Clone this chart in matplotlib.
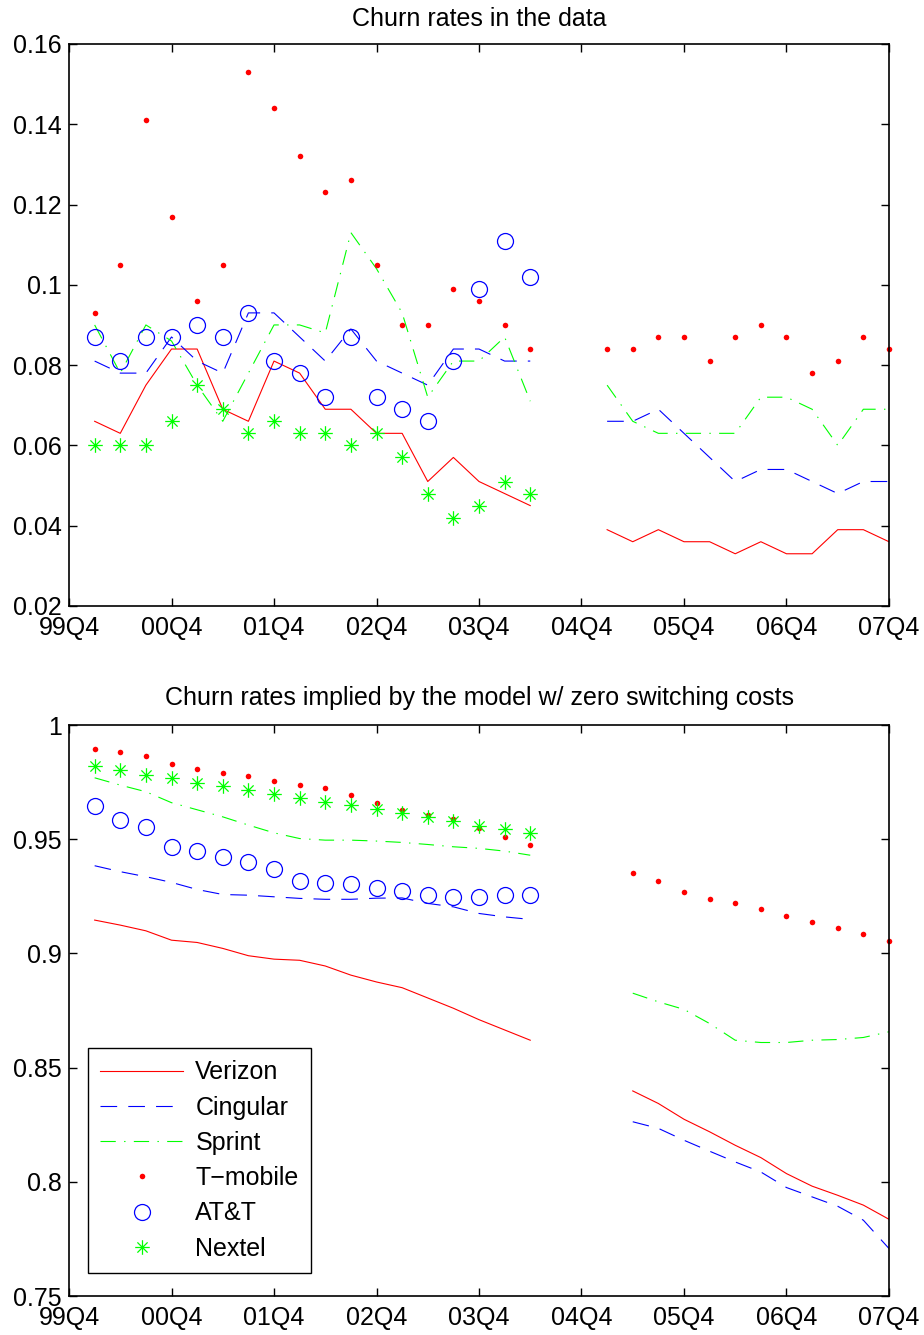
import numpy as np
import matplotlib
matplotlib.use('Agg')
import matplotlib.pyplot as plt
from matplotlib.path import Path

nan = np.nan

# quarters: index 0 = 99Q4 ... index 32 = 07Q4
quarters = np.arange(33)
tick_pos = np.arange(0, 33, 4)
tick_labels = ['99Q4', '00Q4', '01Q4', '02Q4', '03Q4', '04Q4', '05Q4', '06Q4', '07Q4']

# Churn rates in the data
data_verizon = [nan, 0.066, 0.063, 0.075, 0.084, 0.084, 0.069, 0.066, 0.081, 0.078, 0.069, 0.069,
                0.063, 0.063, 0.051, 0.057, 0.051, 0.048, 0.045, nan, nan,
                0.039, 0.036, 0.039, 0.036, 0.036, 0.033, 0.036, 0.033, 0.033, 0.039, 0.039, 0.036]
data_cingular = [nan, 0.081, 0.078, 0.078, 0.087, 0.081, 0.078, 0.093, 0.093, 0.087, 0.081, 0.089,
                 0.081, 0.078, 0.075, 0.084, 0.084, 0.081, 0.081, nan, nan,
                 0.066, 0.066, 0.069, 0.063, 0.057, 0.051, 0.054, 0.054, 0.051, 0.048, 0.051, 0.051]
data_sprint = [nan, 0.090, 0.078, 0.090, 0.086, 0.075, 0.066, 0.078, 0.090, 0.090, 0.088, 0.113,
               0.104, 0.093, 0.072, 0.081, 0.081, 0.087, 0.071, nan, nan,
               0.075, 0.066, 0.063, 0.063, 0.063, 0.063, 0.072, 0.072, 0.069, 0.060, 0.069, 0.069]
data_tmobile = [nan, 0.093, 0.105, 0.141, 0.117, 0.096, 0.105, 0.153, 0.144, 0.132, 0.123, 0.126,
                0.105, 0.090, 0.090, 0.099, 0.096, 0.090, 0.084, nan, nan,
                0.084, 0.084, 0.087, 0.087, 0.081, 0.087, 0.090, 0.087, 0.078, 0.081, 0.087, 0.084]
data_att = [nan, 0.087, 0.081, 0.087, 0.087, 0.090, 0.087, 0.093, 0.081, 0.078, 0.072, 0.087,
            0.072, 0.069, 0.066, 0.081, 0.099, 0.111, 0.102] + [nan] * 14
data_nextel = [nan, 0.060, 0.060, 0.060, 0.066, 0.075, 0.069, 0.063, 0.066, 0.063, 0.063, 0.060,
               0.063, 0.057, 0.048, 0.042, 0.045, 0.051, 0.048] + [nan] * 14

# Churn rates implied by the model
model_verizon = [nan, 0.9146, 0.9124, 0.9099, 0.9058, 0.9048, 0.9022, 0.8990, 0.8975, 0.8970, 0.8945,
                 0.8905, 0.8875, 0.8850, 0.8805, 0.8760, 0.8710, 0.8665, 0.8620, nan, nan, nan,
                 0.8398, 0.8343, 0.8274, 0.8219, 0.8160, 0.8106, 0.8036, 0.7981, 0.7941, 0.7898, 0.7836]
model_cingular = [nan, 0.9384, 0.9358, 0.9336, 0.9311, 0.9280, 0.9258, 0.9255, 0.9248, 0.9241, 0.9237,
                  0.9237, 0.9242, 0.9243, 0.9219, 0.9204, 0.9175, 0.9160, 0.9149, nan, nan, nan,
                  0.8263, 0.8234, 0.8182, 0.8134, 0.8087, 0.8043, 0.7975, 0.7934, 0.7893, 0.7832, 0.7708]
model_sprint = [nan, 0.9769, 0.9737, 0.9708, 0.9660, 0.9629, 0.9598, 0.9562, 0.9528, 0.9503, 0.9496,
                0.9496, 0.9492, 0.9486, 0.9477, 0.9467, 0.9460, 0.9448, 0.9430, nan, nan, nan,
                0.8826, 0.8788, 0.8755, 0.8693, 0.8620, 0.8610, 0.8610, 0.8620, 0.8623, 0.8632, 0.8657]
model_tmobile = [nan, 0.9895, 0.9883, 0.9863, 0.9831, 0.9807, 0.9791, 0.9778, 0.9756, 0.9739, 0.9723,
                 0.9692, 0.9658, 0.9628, 0.9607, 0.9587, 0.9550, 0.9511, 0.9476, nan, nan, nan,
                 0.9350, 0.9315, 0.9271, 0.9238, 0.9219, 0.9196, 0.9166, 0.9136, 0.9110, 0.9083, 0.9054]
model_att = [nan, 0.9645, 0.9584, 0.9555, 0.9466, 0.9447, 0.9422, 0.9401, 0.9371, 0.9318, 0.9307,
             0.9302, 0.9285, 0.9274, 0.9258, 0.9248, 0.9248, 0.9258, 0.9258] + [nan] * 14
model_nextel = [nan, 0.9820, 0.9803, 0.9781, 0.9766, 0.9747, 0.9733, 0.9714, 0.9698, 0.9680, 0.9664,
                0.9650, 0.9632, 0.9617, 0.9598, 0.9578, 0.9559, 0.9543, 0.9526] + [nan] * 14

plt.rcParams['font.family'] = ['Liberation Sans', 'DejaVu Sans']
plt.rcParams['font.size'] = 18
plt.rcParams['lines.scale_dashes'] = False

# matlab style asterisk marker
star = Path([(-1, 0), (1, 0), (0, -1), (0, 1), (-0.7, -0.7), (0.7, 0.7), (-0.7, 0.7), (0.7, -0.7)],
            [Path.MOVETO, Path.LINETO] * 4)

red, blue, green = (1, 0, 0), (0, 0, 1), (0, 1, 0)


def draw(ax, verizon, cingular, sprint, tmobile, att, nextel):
    ax.plot(quarters, verizon, color=red, lw=0.8, label='Verizon')
    ax.plot(quarters, cingular, color=blue, lw=0.8, dashes=(12, 8), label='Cingular')
    ax.plot(quarters, sprint, color=green, lw=0.8, dashes=(11, 6, 1, 6), label='Sprint')
    ax.plot(quarters, tmobile, 'o', color=red, ms=4, mec='none', clip_on=False, label='T\u2212mobile')
    ax.plot(quarters, att, 'o', mfc='none', mec=blue, ms=11.5, mew=0.9, clip_on=False, label='AT&T')
    ax.plot(quarters, nextel, marker=star, ls='none', mfc='none', mec=green, ms=10.5, mew=0.9,
            clip_on=False, label='Nextel')
    ax.set_xlim(0, 32)
    ax.set_xticks(tick_pos)
    ax.set_xticklabels(tick_labels)
    ax.tick_params(direction='in', top=True, right=True, length=5.8, width=1, pad=7)
    ax.tick_params(axis='y', pad=5)
    for s in ax.spines.values():
        s.set_linewidth(1.2)


fig = plt.figure(figsize=(9.24, 13.35), dpi=100)
ax1 = fig.add_axes([0.0747, 0.5461, 0.8874, 0.421])
ax2 = fig.add_axes([0.0747, 0.0292, 0.8874, 0.4277])

draw(ax1, data_verizon, data_cingular, data_sprint, data_tmobile, data_att, data_nextel)
ax1.set_ylim(0.02, 0.16)
ax1.set_yticks(np.arange(0.02, 0.161, 0.02))
ax1.set_yticklabels(['0.02', '0.04', '0.06', '0.08', '0.1', '0.12', '0.14', '0.16'])
ax1.set_title('Churn rates in the data', fontsize=18, pad=13)

draw(ax2, model_verizon, model_cingular, model_sprint, model_tmobile, model_att, model_nextel)
ax2.set_ylim(0.75, 1)
ax2.set_yticks([0.75, 0.8, 0.85, 0.9, 0.95, 1])
ax2.set_yticklabels(['0.75', '0.8', '0.85', '0.9', '0.95', '1'])
ax2.set_title('Churn rates implied by the model w/ zero switching costs', fontsize=18, pad=14.4)

leg = ax2.legend(loc='lower left', bbox_to_anchor=(0.023, 0.04), borderaxespad=0, fancybox=False,
                 edgecolor='black', framealpha=1, handlelength=3.3, handletextpad=0.5,
                 labelspacing=0.45, borderpad=0.5, fontsize=18)
leg.get_frame().set_linewidth(1)

fig.savefig('out.png', dpi=100, facecolor='white')
